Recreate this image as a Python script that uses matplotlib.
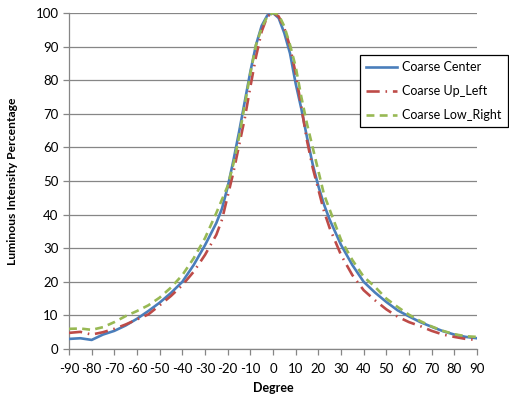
import matplotlib
matplotlib.use("Agg")
from matplotlib import pyplot as plt

plt.rcParams['font.family'] = ['Lato', 'DejaVu Sans']
plt.rcParams['axes.unicode_minus'] = False

degrees = [-90, -85, -80, -75, -70, -65, -60, -55, -50, -45, -40, -35, -30, -25,
           -22.5, -20, -17.5, -15, -12.5, -10, -7.5, -5, -2.5, 0, 2.5, 5, 7.5,
           10, 12.5, 15, 17.5, 20, 22.5, 25, 30, 35, 40, 45, 50, 55, 60, 65,
           70, 75, 80, 85, 90]

center = [3.0, 3.2, 2.7, 4.3, 5.4, 7.0, 9.0, 11.3, 13.8, 16.7, 20.0, 25.0, 30.9, 37.5,
          41.8, 48.2, 56.0, 64.5, 73.5, 82.5, 90.5, 96.2, 99.3, 100, 98.5, 94, 88,
          79, 71.5, 63, 55, 48.5, 43, 38.5, 31, 25, 20, 16.8, 14, 11.5, 9.7, 8.0,
          6.6, 5.3, 4.3, 3.6, 3.2]

up_left = [4.8, 5.1, 4.3, 5.0, 6.0, 7.3, 8.8, 10.3, 13.0, 15.8, 19.0, 23.0, 28.0, 34.0,
           38.5, 45.5, 52.5, 60.5, 68.5, 78, 87, 94.5, 99, 100, 99, 95.5, 90,
           82, 72, 62, 54, 47.5, 41, 36, 28, 22, 17.5, 14.5, 11.8, 9.6, 8.0, 6.8,
           5.4, 4.3, 3.6, 3.0, 2.7]

low_right = [6.0, 6.1, 5.7, 6.5, 8.0, 9.8, 11.3, 13.0, 15.3, 18.3, 22, 27, 33, 40.5,
             44.5, 48.5, 55, 63, 72.5, 82, 90.5, 95.5, 99, 100, 99.5, 96, 90.5,
             84, 75, 67, 60, 53, 46, 41.5, 32.5, 26.5, 21.5, 18.5, 15, 12.5, 10.2, 8.3,
             6.7, 5.4, 4.4, 3.8, 3.6]

x_ticks = list(range(-90, 91, 10))
y_ticks = list(range(0, 101, 10))

fig = plt.figure(figsize=(5.1, 3.98), dpi=100)
ax = fig.add_axes([69 / 510, 1 - 349 / 398, 408 / 510, 336 / 398])

grid_color = '#868686'
ax.plot(degrees, center, color='#4A7EBB', lw=1.9, label='Coarse Center', zorder=3)
ax.plot(degrees, up_left, color='#BE4B48', lw=1.9, dashes=(5, 2.2, 0.6, 2.2),
        label='Coarse Up_Left', zorder=3)
ax.plot(degrees, low_right, color='#98B954', lw=1.9, dashes=(3, 2),
        label='Coarse Low_Right', zorder=3)

ax.set_xlim(-90, 90)
ax.set_ylim(0, 100)
ax.set_xticks(x_ticks)
ax.set_yticks(y_ticks)
ax.yaxis.grid(True, color=grid_color, lw=0.9)
ax.set_axisbelow(True)
for s in ['top', 'right']:
    ax.spines[s].set_visible(False)
for s in ['left', 'bottom']:
    ax.spines[s].set_color(grid_color)
    ax.spines[s].set_linewidth(0.9)
ax.tick_params(axis='both', colors=grid_color, length=4, width=0.9, labelsize=9.5,
               labelcolor='black')
ax.tick_params(axis='x', pad=6)

ax.set_xlabel('Degree', fontsize=9, fontweight='bold', labelpad=5)
ax.set_ylabel('Luminous Intensity Percentage', fontsize=8.7, fontweight='bold', labelpad=13)

leg = fig.legend(loc='upper right', bbox_to_anchor=(508 / 510, 1 - 55 / 398), fontsize=9,
                 frameon=True, fancybox=False, edgecolor='black', framealpha=1,
                 handlelength=2.5, handletextpad=0.4, labelspacing=0.95,
                 borderpad=0.5, borderaxespad=0)
leg.get_frame().set_linewidth(0.9)

fig.savefig('out.png', dpi=100)
